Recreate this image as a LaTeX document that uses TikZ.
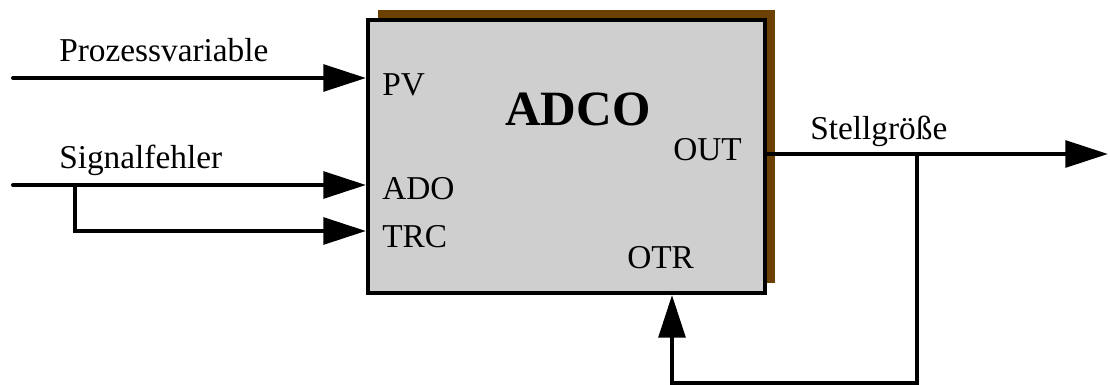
\documentclass[tikz,border=0pt]{standalone}
\usepackage{fontspec}
\setmainfont{Liberation Serif}
\usepackage{xcolor}
\usepackage{tikz}
\definecolor{adcoGrey}{HTML}{CFCFCF}
\definecolor{adcoBrown}{HTML}{6B4000}
\usetikzlibrary{arrows.meta,calc,shadows}

\begin{document}
\begin{tikzpicture}[x=0.75pt, y=-0.75pt,
    sig/.style={line width=3pt, line cap=round},
    sigarrow/.style={sig, -{Triangle[length=32pt,width=20pt]}},
    port/.style={anchor=base west, inner sep=0pt, font=\fontsize{25}{30}\selectfont},
  ]
    \useasboundingbox (0,0) rectangle (1110,385);

    % the block with its shadow
    \node[draw, line width=3pt, fill=adcoGrey,
      minimum width=297.75pt, minimum height=204.75pt,
      drop shadow={fill=adcoBrown, opacity=1, shadow xshift=7.5pt, shadow yshift=7.5pt}]
      (adco) at (566.5,156.5) {};

    \node[anchor=base west, inner sep=0pt, font=\bfseries\fontsize{37}{44}\selectfont] (title) at (505,125) {ADCO};
    \node[port] (pv) at (382,95) {PV};
    \node[port] (ado) at (382,199) {ADO};
    \node[port] (trc) at (382,247) {TRC};
    \node[port] (out) at (673,160) {OUT};
    \node[port] (otr) at (627,268) {OTR};

    % signal names
    \node[port] (pvname) at (59,62) {Prozessvariable};
    \node[port] (sfname) at (59,168) {Signalfehler};
    \node[port] (stname) at (810,139) {Stellgröße};

    \coordinate (pvsrc) at (13,78);
    \coordinate (sfsrc) at (13,185);
    \coordinate (sfbranch) at (75,185);
    \coordinate (trcbend) at (75,231);
    \coordinate (outend) at (1108,154);
    \coordinate (tap) at (917,154);
    \coordinate (fbcorner) at (672,383);

    \draw[sigarrow] (pvsrc) -- (pvsrc -| adco.west);
    \draw[sigarrow] (sfsrc) -- (sfsrc -| adco.west);
    \draw[sigarrow] (sfbranch) -- (trcbend) -- (trcbend -| adco.west);
    \draw[sigarrow] (outend -| adco.east) -- (outend);
    \draw[sigarrow] (tap) |- (fbcorner) -- (fbcorner |- adco.south);
  \end{tikzpicture}
\end{document}
